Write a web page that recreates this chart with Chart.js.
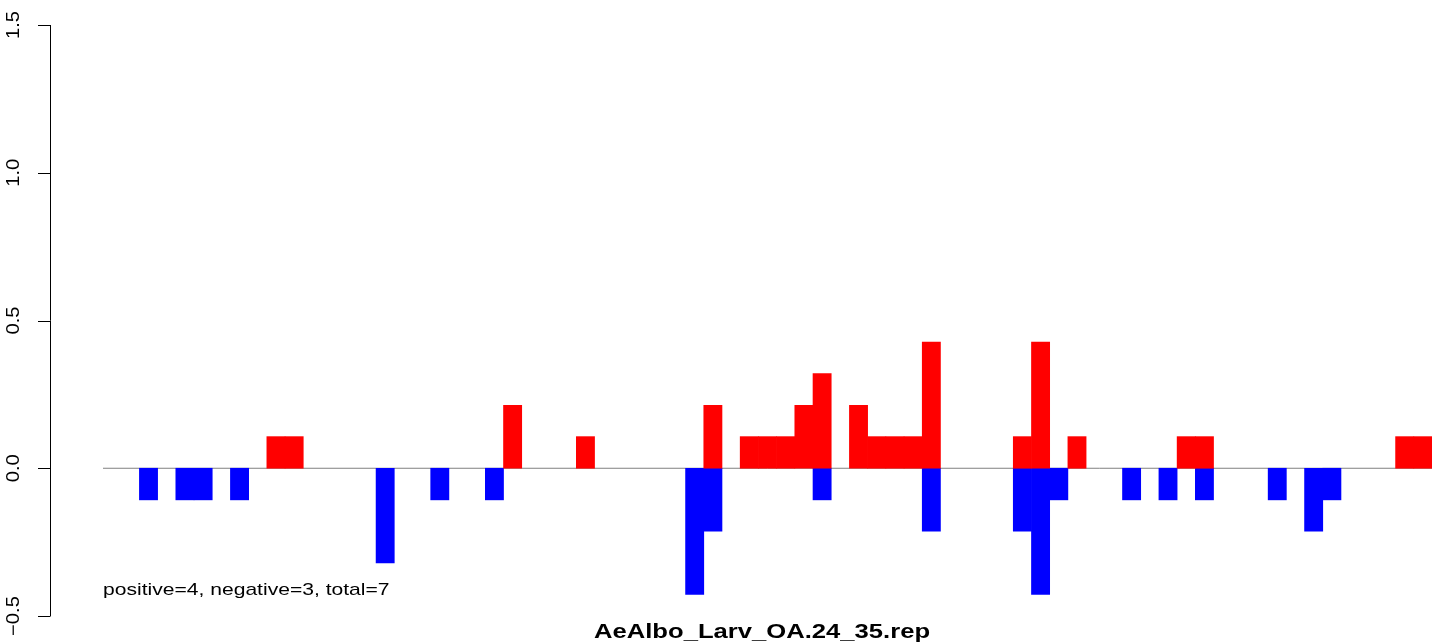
<!DOCTYPE html>
<html>
<head>
<meta charset="utf-8">
<script src="https://cdn.jsdelivr.net/npm/chart.js@4.4.1/dist/chart.umd.min.js"></script>
<style>
    html, body { margin: 0; padding: 0; background: #fff; }
    canvas { display: block; }
</style>
</head>
<body>
<canvas id="barres" width="1441" height="644"></canvas>
<script>
// positions des barres (une case par position)
const positions = Array.from({ length: 73 }, (_, i) => i);

const positifs = [
    0, 0, 0, 0, 0, 0, 0, 0, 0, 0.107,
    0.107, 0, 0, 0, 0, 0, 0, 0, 0, 0,
    0, 0, 0.213, 0, 0, 0, 0.107, 0, 0, 0,
    0, 0, 0, 0.213, 0, 0.107, 0.107, 0.107, 0.213, 0.32,
    0, 0.213, 0.107, 0.107, 0.107, 0.427, 0, 0, 0, 0,
    0.107, 0.427, 0, 0.107, 0, 0, 0, 0, 0, 0.107,
    0.107, 0, 0, 0, 0, 0, 0, 0, 0, 0,
    0, 0.107, 0.107
];

const negatifs = [
    0, 0, -0.107, 0, -0.107, -0.107, 0, -0.107, 0, 0,
    0, 0, 0, 0, 0, -0.32, 0, 0, -0.107, 0,
    0, -0.107, 0, 0, 0, 0, 0, 0, 0, 0,
    0, 0, -0.427, -0.213, 0, 0, 0, 0, 0, -0.107,
    0, 0, 0, 0, 0, -0.213, 0, 0, 0, 0,
    -0.213, -0.427, -0.107, 0, 0, 0, -0.107, 0, -0.107, 0,
    -0.107, 0, 0, 0, -0.107, 0, -0.213, -0.107, 0, 0,
    0, 0, 0
];

const yTicks = [-0.5, 0, 0.5, 1, 1.5];
const yLabels = ['\u22120.5', '0.0', '0.5', '1.0', '1.5'];

const titre = 'AeAlbo_Larv_OA.24_35.rep';
const resume = 'positive=4, negative=3, total=7';

function points(valeurs) {
    return positions.map(i => ({ x: i + 0.5, y: valeurs[i] === 0 ? null : valeurs[i] }));
}

// texte étiré comme sur l'image d'origine
function texte(ctx, txt, x, y, font, sx, align, rot) {
    ctx.save();
    ctx.translate(x, y);
    if (rot) ctx.rotate(rot);
    ctx.scale(sx, 1);
    ctx.font = font;
    ctx.textAlign = align;
    ctx.textBaseline = 'alphabetic';
    ctx.fillStyle = '#000';
    ctx.fillText(txt, 0, 0);
    ctx.restore();
}

const axeR = {
    id: 'axeR',
    beforeDatasetsDraw(chart) {
        const ctx = chart.ctx;
        const xs = chart.scales.x;
        const ys = chart.scales.y;
        const y0 = ys.getPixelForValue(0);
        ctx.save();
        ctx.strokeStyle = '#808080';
        ctx.lineWidth = 1;
        ctx.beginPath();
        ctx.moveTo(xs.getPixelForValue(0), y0);
        ctx.lineTo(xs.getPixelForValue(73), y0);
        ctx.stroke();
        ctx.restore();
    },
    afterDraw(chart) {
        const ctx = chart.ctx;
        const ys = chart.scales.y;
        const xAxe = 50.5;
        ctx.save();
        ctx.strokeStyle = '#000';
        ctx.lineWidth = 1;
        ctx.beginPath();
        ctx.moveTo(xAxe, ys.getPixelForValue(yTicks[0]));
        ctx.lineTo(xAxe, ys.getPixelForValue(yTicks[yTicks.length - 1]));
        yTicks.forEach(v => {
            const py = Math.round(ys.getPixelForValue(v)) + 0.5;
            ctx.moveTo(xAxe, py);
            ctx.lineTo(38, py);
        });
        ctx.stroke();
        ctx.restore();

        yTicks.forEach((v, i) => {
            texte(ctx, yLabels[i], 19, ys.getPixelForValue(v), '18px "Liberation Sans", Arial, sans-serif', 1.12, 'center', -Math.PI / 2);
        });

        texte(ctx, resume, 103, 595, '17px "Liberation Sans", Arial, sans-serif', 1.24, 'left');
        texte(ctx, titre, 762, 638, 'bold 21px "Liberation Sans", Arial, sans-serif', 1.22, 'center');
    }
};

new Chart(document.getElementById('barres'), {
    type: 'bar',
    data: {
        datasets: [{
            label: 'positifs',
            data: points(positifs),
            backgroundColor: '#ff0000',
            borderWidth: 0,
            grouped: false
        }, {
            label: 'negatifs',
            data: points(negatifs),
            backgroundColor: '#0000ff',
            borderWidth: 0,
            grouped: false
        }]
    },
    options: {
        responsive: false,
        animation: false,
        devicePixelRatio: 1,
        categoryPercentage: 1,
        barPercentage: 1,
        layout: {
            padding: { left: 103, right: 9, top: 25, bottom: 28 }
        },
        scales: {
            x: { type: 'linear', min: 0, max: 73, offset: false, display: false },
            y: { min: -0.5, max: 1.5, display: false }
        },
        plugins: {
            legend: { display: false },
            tooltip: { enabled: false }
        }
    },
    plugins: [axeR]
});
</script>
</body>
</html>
